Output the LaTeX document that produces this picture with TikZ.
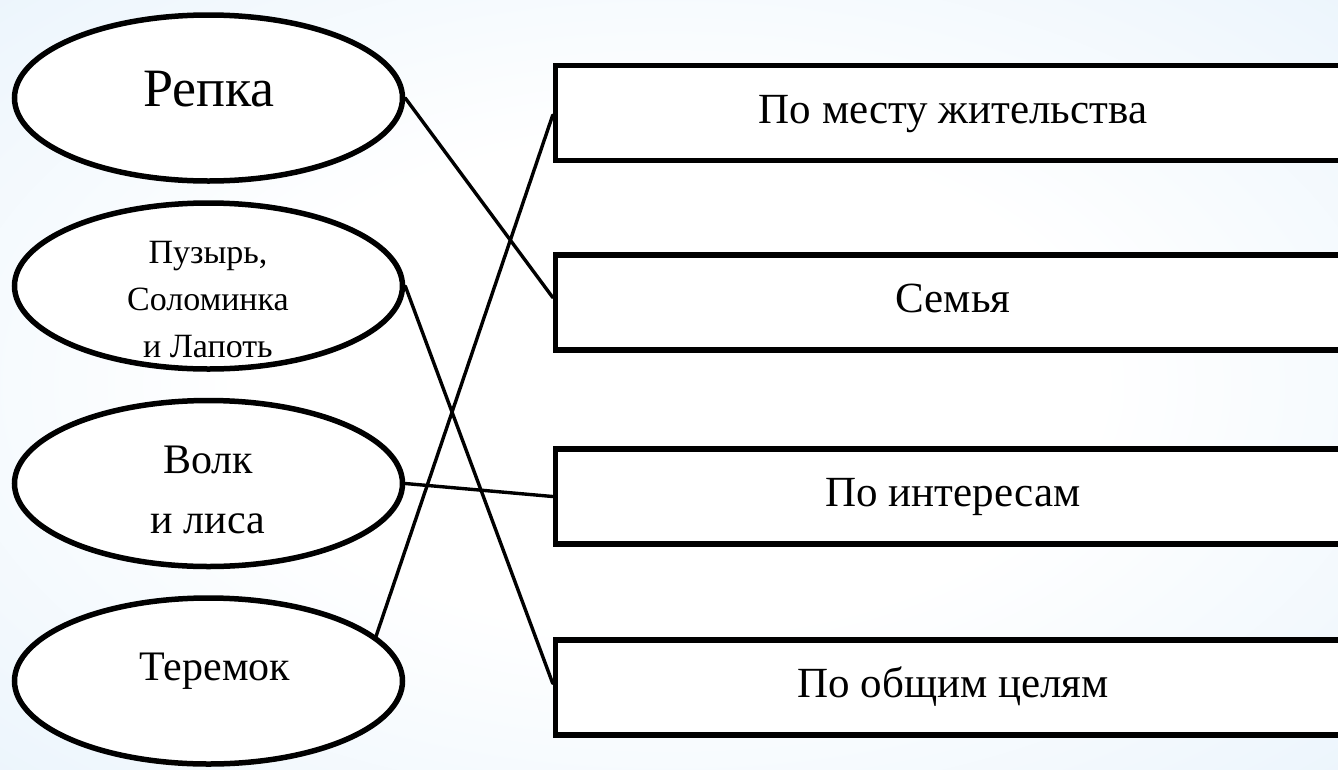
\documentclass[tikz,border=0pt]{standalone}
\usepackage{fontspec}
\setmainfont{Liberation Serif}
\usetikzlibrary{shapes.geometric}
\definecolor{bgA}{RGB}{234,244,252}
\definecolor{bgB}{RGB}{204,228,248}
\pgfdeclareradialshading{bgshade}{\pgfpoint{0bp}{0bp}}{color(0bp)=(white); color(16bp)=(white); color(38bp)=(bgA); color(55bp)=(bgB); color(72bp)=(bgB)}
\begin{document}
\begin{tikzpicture}[x=1pt,y=-1pt,
  ell/.style={ellipse, draw=black, line width=5.5pt, fill=white, minimum width=388pt, minimum height=166pt, inner sep=0pt},
  box/.style={rectangle, draw=black, line width=5.5pt, fill=white, minimum width=795pt, minimum height=95pt, inner sep=0pt, font=\fontsize{43}{50}\selectfont, text height=30pt, text depth=10pt},
  lbl/.style={inner sep=0pt, align=center},
  link/.style={line width=3.4pt, line cap=round}]
\useasboundingbox (0,0) rectangle (1338,769);
\clip (0,0) rectangle (1338,769);
\shade[shading=bgshade] (0,0) rectangle (1338,769);

\node[ell] (e1) at (208.5,98) {};
\node[ell] (e2) at (208.5,286) {};
\node[ell] (e3) at (208.5,483.5) {};
\node[ell] (e4) at (208.5,681) {};

\node[lbl, font=\fontsize{54}{60}\selectfont, anchor=base] (t1) at (209,106) {Репка};
\node[lbl, font=\fontsize{34}{47}\selectfont, anchor=base] (t2) at (208,357) {Пузырь,\\Соломинка\\и Лапоть};
\node[lbl, font=\fontsize{42}{60}\selectfont, anchor=base] (t3) at (208,533) {Волк\\и лиса};
\node[lbl, font=\fontsize{42}{50}\selectfont, anchor=base] (t4) at (215,680) {Теремок};

\node[box] (b1) at (953,113) {По месту жительства};
\node[box] (b2) at (953,302.5) {Семья};
\node[box] (b3) at (953,496.5) {По интересам};
\node[box] (b4) at (953,687.5) {По общим целям};

\draw[link] (e1.east) -- ([yshift=5pt]b2.west);
\draw[link] (e2.east) -- ([yshift=4pt]b4.west);
\draw[link] (e3.east) -- (b3.west);
\draw[link] (e4.15) -- ([yshift=-2pt]b1.west);
\end{tikzpicture}
\end{document}
